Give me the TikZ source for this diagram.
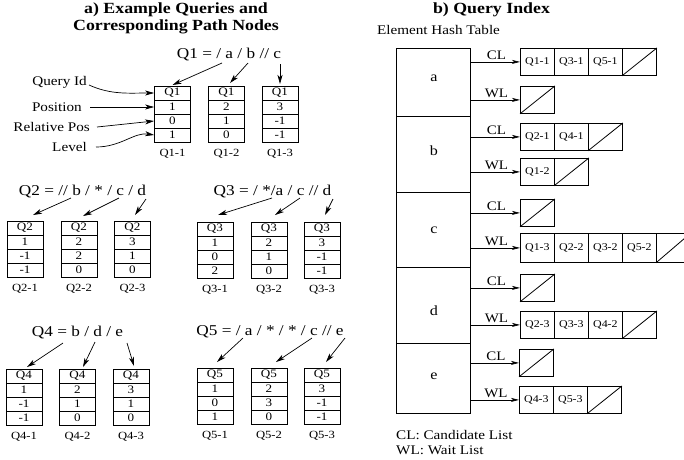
\documentclass[tikz,border=0pt]{standalone}
\usepackage{fontspec}
\setmainfont[FakeStretch=1.15]{Liberation Serif}
\usetikzlibrary{arrows.meta}
\newcommand{\fs}[1]{\fontsize{#1}{#1}\selectfont}
\tikzset{
 every node/.style={inner sep=0pt},
 ln/.style={line width=0.8pt},
 pbx/.style={draw, line width=0.8pt, minimum width=36pt, minimum height=56pt, inner sep=0pt},
 ctx/.style={font={\fs{11.4}}},
 utx/.style={font={\fs{11}}},
 lab/.style={font={\fs{13.2}}},
 expr/.style={font={\fs{15}}},
 ttl/.style={font={\bfseries\fs{15.5}}, align=center},
 hc/.style={draw, line width=0.8pt, minimum width=34pt, minimum height=27pt, inner sep=0pt, font={\fs{10.4}}, anchor=north west},
 hrow/.style={draw, line width=0.8pt, minimum width=74pt, inner sep=0pt, anchor=north west},
 hlet/.style={font={\fs{14}}},
 arr/.style={line width=0.7pt, -{Stealth[length=9pt,width=5pt,inset=2.5pt]}},
 harr/.style={line width=0.7pt, -{Stealth[length=8pt,width=4pt,inset=2pt]}},
 hl/.style={font={\fs{13}}, above=2pt, pos=0.52}
}
% path node box: name, x center, y top, Q, v1, v2, v3, label
\newcommand{\pbox}[8]{%
 \node[pbx, anchor=north] (#1) at (#2,#3) {};
 \draw[ln] (#2-18,#3+14) -- (#2+18,#3+14);
 \draw[ln] (#2-18,#3+28) -- (#2+18,#3+28);
 \draw[ln] (#2-18,#3+42) -- (#2+18,#3+42);
 \node[ctx] (#1a) at (#2,#3+7) {#4};
 \node[ctx] (#1b) at (#2,#3+21) {#5};
 \node[ctx] (#1c) at (#2,#3+35) {#6};
 \node[ctx] (#1d) at (#2,#3+49) {#7};
 \node[utx] (#1l) at (#2,#3+68) {#8};
}
\newcommand{\nullc}[2]{%
 \node[hc] (#1) at #2 {};
 \draw[ln] (#1.south west) -- (#1.north east);
}
\begin{document}
\begin{tikzpicture}[x=1pt,y=-1pt]
\useasboundingbox (0,0) rectangle (684,459);

% titles
\node[ttl] (ta) at (176,18.5) {a) Example Queries and\\[1pt]Corresponding Path Nodes};
\node[ttl] (tb) at (491.5,10) {b) Query Index};
\node[lab] (eht) at (438.5,30) {Element Hash Table};

% ---------- Q1 ----------
\node[expr] (e1) at (229,55) {Q1 = / a / b // c};
\pbox{q11}{172.5}{86}{Q1}{1}{0}{1}{Q1-1}
\pbox{q12}{226.5}{86}{Q1}{2}{1}{0}{Q1-2}
\pbox{q13}{280}{86}{Q1}{3}{-1}{-1}{Q1-3}
\coordinate (s11) at (222,63);
\coordinate (s12) at (248,63);
\coordinate (s13) at (280,64);
\draw[arr] (s11) -- ([yshift=1pt]q11.north);
\draw[arr] (s12) -- ([xshift=3.5pt,yshift=3pt]q12.north);
\draw[arr] (s13) -- ([yshift=2pt]q13.north);

% legend labels
\node[lab, anchor=east] (lqid) at (87,82) {Query Id};
\node[lab, anchor=east] (lpos) at (82,107) {Position};
\node[lab, anchor=east] (lrel) at (90,127) {Relative Pos};
\node[lab, anchor=east] (llev) at (87,147) {Level};
\draw[arr] ([xshift=2pt,yshift=-3pt]lqid.east) .. controls +(22,10) and +(-25,0) .. (q11.west |- q11a);
\draw[arr] ([xshift=8pt]lpos.east) -- (q11.west |- q11b);
\draw[arr] ([xshift=7pt]lrel.east) -- (q11.west |- q11c);
\draw[arr] ([xshift=9pt]llev.east) .. controls +(25,0) and +(-20,-3) .. (q11.west |- q11d);

% ---------- Q2 ----------
\node[expr] (e2) at (82.5,192) {Q2 = // b / * / c / d};
\pbox{q21}{25}{221}{Q2}{1}{-1}{-1}{Q2-1}
\pbox{q22}{79}{221}{Q2}{2}{2}{0}{Q2-2}
\pbox{q23}{132.5}{221}{Q2}{3}{1}{0}{Q2-3}
\coordinate (s21) at (71,198);
\coordinate (s22) at (119,198);
\coordinate (s23) at (146,199);
\draw[arr] (s21) -- ([xshift=8pt,yshift=6pt]q21.north);
\draw[arr] (s22) -- ([xshift=4pt,yshift=5pt]q22.north);
\draw[arr] (s23) -- ([xshift=2.5pt,yshift=6pt]q23.north);

% ---------- Q3 ----------
\node[expr] (e3) at (272.5,192) {Q3 = / */a / c // d};
\pbox{q31}{215}{222}{Q3}{1}{0}{2}{Q3-1}
\pbox{q32}{269}{222}{Q3}{2}{1}{0}{Q3-2}
\pbox{q33}{322}{222}{Q3}{3}{-1}{-1}{Q3-3}
\coordinate (s31) at (272,198);
\coordinate (s32) at (300,198);
\coordinate (s33) at (333,199);
\draw[arr] (s31) -- ([xshift=3pt,yshift=7pt]q31.north);
\draw[arr] (s32) -- ([xshift=6pt,yshift=7pt]q32.north);
\draw[arr] (s33) -- ([xshift=3pt,yshift=7pt]q33.north);

% ---------- Q4 ----------
\node[expr] (e4) at (77.5,333) {Q4 = b / d / e};
\pbox{q41}{24}{369}{Q4}{1}{-1}{-1}{Q4-1}
\pbox{q42}{77.5}{369}{Q4}{2}{1}{0}{Q4-2}
\pbox{q43}{131}{369}{Q4}{3}{1}{0}{Q4-3}
\coordinate (s41) at (63,343);
\coordinate (s42) at (95,342);
\coordinate (s43) at (127,343);
\draw[arr] (s41) -- ([xshift=3pt,yshift=2pt]q41.north);
\draw[arr] (s42) -- ([xshift=5.5pt,yshift=2pt]q42.north);
\draw[arr] (s43) -- ([xshift=3pt,yshift=3pt]q43.north);

% ---------- Q5 ----------
\node[expr] (e5) at (270,332) {Q5 = / a / * / * / c // e};
\pbox{q51}{215}{368}{Q5}{1}{0}{1}{Q5-1}
\pbox{q52}{269}{368}{Q5}{2}{3}{0}{Q5-2}
\pbox{q53}{322}{368}{Q5}{3}{-1}{-1}{Q5-3}
\coordinate (s51) at (243,338);
\coordinate (s52) at (312,338);
\coordinate (s53) at (345,338);
\draw[arr] (s51) -- ([xshift=2pt,yshift=6pt]q51.north);
\draw[arr] (s52) -- ([xshift=7pt,yshift=6pt]q52.north);
\draw[arr] (s53) -- ([xshift=4pt,yshift=6pt]q53.north);

% ---------- hash table ----------
\node[hrow, minimum height=68pt] (ha) at (396,48) {};
\node[hrow, minimum height=76pt] (hb) at (396,116) {};
\node[hrow, minimum height=75pt] (hc) at (396,192) {};
\node[hrow, minimum height=76pt] (hd) at (396,267) {};
\node[hrow, minimum height=70pt] (he) at (396,343) {};
\node[hlet] (la) at (434,78) {a};
\node[hlet] (lb) at (434,151) {b};
\node[hlet] (lc) at (434,230) {c};
\node[hlet] (ld) at (434,311) {d};
\node[hlet] (le) at (434,376) {e};

% a
\node[hc] (aC1) at (520,48) {Q1-1};
\node[hc] (aC2) at (554,48) {Q3-1};
\node[hc] (aC3) at (588,48) {Q5-1};
\nullc{aC4}{(622,48)}
\draw[harr] (ha.east |- aC1.west) -- node[hl]{CL} (aC1.west);
\nullc{aW1}{(520,86)}
\draw[harr] (ha.east |- aW1.west) -- node[hl]{WL} (aW1.west);
% b
\node[hc] (bC1) at (520,123) {Q2-1};
\node[hc] (bC2) at (554,123) {Q4-1};
\nullc{bC3}{(588,123)}
\draw[harr] (hb.east |- bC1.west) -- node[hl]{CL} (bC1.west);
\node[hc] (bW1) at (520,158) {Q1-2};
\nullc{bW2}{(554,158)}
\draw[harr] (hb.east |- bW1.west) -- node[hl]{WL} (bW1.west);
% c
\nullc{cC1}{(520,199)}
\draw[harr] (hc.east |- cC1.west) -- node[hl]{CL} (cC1.west);
\node[hc, minimum height=29pt] (cW1) at (520,233) {Q1-3};
\node[hc, minimum height=29pt] (cW2) at (554,233) {Q2-2};
\node[hc, minimum height=29pt] (cW3) at (588,233) {Q3-2};
\node[hc, minimum height=29pt] (cW4) at (622,233) {Q5-2};
\node[hc, minimum height=29pt] (cW5) at (656,233) {};
\draw[ln] (cW5.south west) -- (cW5.north east);
\draw[harr] (hc.east |- cW1.west) -- node[hl]{WL} (cW1.west);
% d
\nullc{dC1}{(520,274)}
\draw[harr] (hd.east |- dC1.west) -- node[hl]{CL} (dC1.west);
\node[hc] (dW1) at (520,311) {Q2-3};
\node[hc] (dW2) at (554,311) {Q3-3};
\node[hc] (dW3) at (588,311) {Q4-2};
\nullc{dW4}{(622,311)}
\draw[harr] (hd.east |- dW1.west) -- node[hl]{WL} (dW1.west);
% e
\nullc{eC1}{(519,349)}
\draw[harr] (he.east |- eC1.west) -- node[hl]{CL} (eC1.west);
\node[hc] (eW1) at (519,386) {Q4-3};
\node[hc] (eW2) at (553,386) {Q5-3};
\nullc{eW3}{(587,386)}
\draw[harr] (he.east |- eW1.west) -- node[hl]{WL} (eW1.west);

% legend
\node[lab, anchor=west] (lcl) at (396,435) {CL: Candidate List};
\node[lab, anchor=west] (lwl) at (396,450) {WL: Wait List};
\end{tikzpicture}
\end{document}
